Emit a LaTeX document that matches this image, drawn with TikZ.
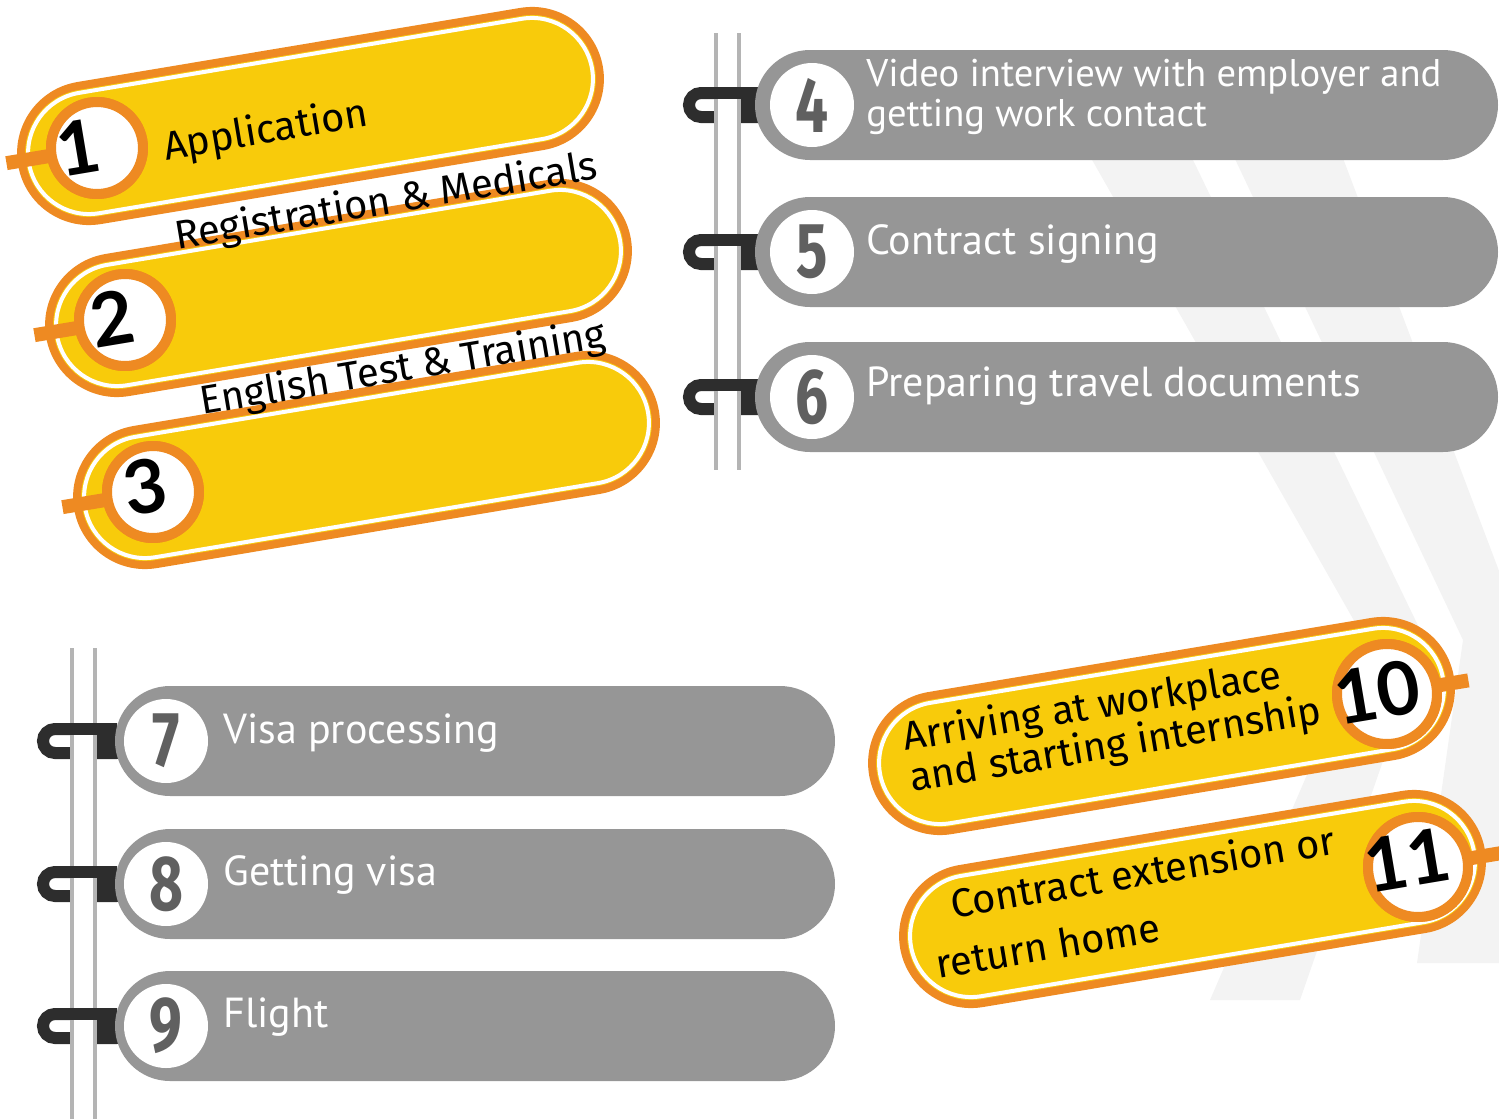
\documentclass[tikz,border=0pt]{standalone}
\usepackage{fontspec}
\usepackage{graphicx}
\setmainfont{Fira Sans}
\newfontfamily\greyfont{PT Sans}
\newfontfamily\numfont{Lato}
\newfontfamily\condfont{Fira Sans}
\usetikzlibrary{calc}
\usetikzlibrary{shapes.misc}
\definecolor{pillgrey}{HTML}{969696}
\definecolor{pillyellow}{HTML}{F8CB0B}
\definecolor{pillorange}{HTML}{EE8A22}
\definecolor{hookdark}{HTML}{2D2D2D}
\definecolor{numgrey}{HTML}{606060}
\definecolor{stripe}{HTML}{F3F3F3}
\definecolor{spinegrey}{HTML}{B4B4B4}
\tikzset{%
    gpill/.style={rounded rectangle,inner sep=0pt,outer sep=0pt,fill=pillgrey,minimum height=55pt},
    gdot/.style={circle,inner sep=0pt,fill=white,minimum size=42pt},
    gnum/.style={inner sep=0pt,text=numgrey,font=\condfont\bfseries\fontsize{39}{39}\selectfont},
    gtext/.style={inner sep=0pt,anchor=base west,text=white,font=\greyfont\fontsize{21}{24}\selectfont},
    ypill/.style={rounded rectangle,inner sep=0pt,fill=pillyellow,draw=pillorange,line width=4pt,minimum width=292.5pt,minimum height=68pt,rotate=9.5},
    yline/.style={rounded rectangle,inner sep=0pt,draw=white,line width=2pt,minimum width=285.5pt,minimum height=61pt,rotate=9.5},
    ydot/.style={circle,inner sep=0pt,fill=white,draw=pillorange,line width=5pt,minimum size=46pt,rotate=9.5},
    ynum/.style={inner sep=0pt,rotate=9.5,font=\numfont\bfseries\fontsize{37}{37}\selectfont},
    ytext/.style={inner sep=0pt,anchor=base,rotate=9.5,font=\fontsize{20}{22}\selectfont},
    tab/.style={pillorange,line width=7pt},
    hook/.style={hookdark,line width=6pt,rounded corners=6pt},
    spine/.style={spinegrey,line width=2pt},
}

\begin{document}
\begin{tikzpicture}[x=0.5pt,y=-0.5pt]
        \useasboundingbox (0,0) rectangle (1499,1119);

        % light stripes behind
        \fill[stripe] (1058,100) -- (1164,100) -- (1425,640) -- (1300,1000) -- (1210,1000) -- (1365,640) -- cycle;
        \fill[stripe] (1207,100) -- (1321,100) -- (1510,600) -- (1530,620) -- (1530,963) -- (1417,963) -- (1463,640) -- cycle;

        % right binder, steps 4-6
        \draw[hook] (760,93) -| (689,117) -- (760,117);
        \draw[hook] (760,240) -| (689,264) -- (760,264);
        \draw[hook] (760,385) -| (689,409) -- (760,409);
        \fill[white] (714,33) rectangle (741,470);
        \draw[spine] (716,33) -- (716,470);
        \draw[spine] (739,33) -- (739,470);
        \draw[hook] (705,93) -- (760,93);
        \draw[hook] (705,240) -- (760,240);
        \draw[hook] (705,385) -- (760,385);
        \fill[hookdark] (741,99) rectangle (762,123);
        \fill[hookdark] (741,246) rectangle (762,270);
        \fill[hookdark] (741,391) rectangle (762,415);

        \node[gpill,minimum width=371.5pt] (p4) at (1126.5,105) {};
        \node[gdot] (c4) at (812,105) {};
        \node[gnum] (n4) at (c4) {\scalebox{0.75}[1]{4}};
        \node[gtext,font=\greyfont\fontsize{19.3}{22}\selectfont] (t4a) at (866,86) {Video interview with employer and};
        \node[gtext,font=\greyfont\fontsize{19.3}{22}\selectfont] (t4b) at (866,126) {getting work contact};

        \node[gpill,minimum width=371.5pt] (p5) at (1126.5,252) {};
        \node[gdot] (c5) at (812,252) {};
        \node[gnum] (n5) at (c5) {\scalebox{0.75}[1]{5}};
        \node[gtext] (t5) at (866,254) {Contract signing};

        \node[gpill,minimum width=371.5pt] (p6) at (1126.5,397) {};
        \node[gdot] (c6) at (812,397) {};
        \node[gnum] (n6) at (c6) {\scalebox{0.75}[1]{6}};
        \node[gtext] (t6) at (866,396) {Preparing travel documents};

        % left binder, steps 7-9
        \draw[hook] (117,729) -| (43,753) -- (117,753);
        \draw[hook] (117,872) -| (43,896) -- (117,896);
        \draw[hook] (117,1014) -| (43,1038) -- (117,1038);
        \fill[white] (70,648) rectangle (97,1119);
        \draw[spine] (72,648) -- (72,1119);
        \draw[spine] (95,648) -- (95,1119);
        \draw[hook] (60,729) -- (117,729);
        \draw[hook] (60,872) -- (117,872);
        \draw[hook] (60,1014) -- (117,1014);
        \fill[hookdark] (97,735) rectangle (119,759);
        \fill[hookdark] (97,878) rectangle (119,902);
        \fill[hookdark] (97,1020) rectangle (119,1044);

        \node[gpill,minimum width=360pt] (p7) at (475,741) {};
        \node[gdot] (c7) at (166,741) {};
        \node[gnum] (n7) at (c7) {\scalebox{0.75}[1]{7}};
        \node[gtext] (t7) at (223,743) {Visa processing};

        \node[gpill,minimum width=360pt] (p8) at (475,884) {};
        \node[gdot] (c8) at (166,884) {};
        \node[gnum] (n8) at (c8) {\scalebox{0.75}[1]{8}};
        \node[gtext] (t8) at (223,885) {Getting visa};

        \node[gpill,minimum width=360pt] (p9) at (475,1026) {};
        \node[gdot] (c9) at (166,1026) {};
        \node[gnum] (n9) at (c9) {\scalebox{0.75}[1]{9}};
        \node[gtext] (t9) at (223,1027) {Flight};

        % tilted yellow steps 1-3
        \node[ypill] (p1) at (310.5,116) {};
        \node[yline] (p1l) at (p1) {};
        \node[ydot] (c1) at (97,148) {};
        \draw[tab] (c1.center) -- ($(c1.center)!1.8!(c1.west)$);
        \node[ydot] (c1) at (97,148) {};
        \node[ynum] (d1) at (78,148) {1};

        \node[ypill] (p2) at (338.5,288) {};
        \node[yline] (p2l) at (p2) {};
        \node[ydot] (c2) at (125,320) {};
        \draw[tab] (c2.center) -- ($(c2.center)!1.8!(c2.west)$);
        \node[ydot] (c2) at (125,320) {};
        \node[ynum] (d2) at (112,318) {2};

        \node[ypill] (p3) at (366.5,460) {};
        \node[yline] (p3l) at (p3) {};
        \node[ydot] (c3) at (153,492) {};
        \draw[tab] (c3.center) -- ($(c3.center)!1.8!(c3.west)$);
        \node[ydot] (c3) at (153,492) {};
        \node[ynum] (d3) at (145,487) {3};

        \node[ytext] (t1) at (268,143) {Application};
        \node[ytext] (t2) at (388,214) {Registration \& Medicals};
        \node[ytext] (t3) at (405,381) {English Test \& Training};

        % tilted yellow steps 10-11
        \node[ypill] (p10) at (1161.5,726) {};
        \node[yline] (p10l) at (p10) {};
        \node[ydot,minimum size=50pt] (c10) at (1387,694) {};
        \draw[tab] (c10.center) -- ($(c10.center)!1.5!(c10.east)$);
        \node[ydot,minimum size=50pt] (c10) at (1387,694) {};
        \node[ynum] (d10) at (1377,692) {10};

        \node[ypill] (p11) at (1192.5,899) {};
        \node[yline] (p11l) at (p11) {};
        \node[ydot,minimum size=50pt] (c11) at (1418,867) {};
        \draw[tab] (c11.center) -- ($(c11.center)!1.7!(c11.east)$);
        \node[ydot,minimum size=50pt] (c11) at (1418,867) {};
        \node[ynum] (d11) at (1407,860) {11};

        \node[ytext,anchor=base west,align=left,font=\fontsize{20}{19}\selectfont] (t10) at (912,792) {Arriving at workplace\\and starting internship};
        \node[ytext] (t11a) at (1145,886) {Contract extension or};
        \node[ytext] (t11b) at (1050,960) {return home};
\end{tikzpicture}
\end{document}
